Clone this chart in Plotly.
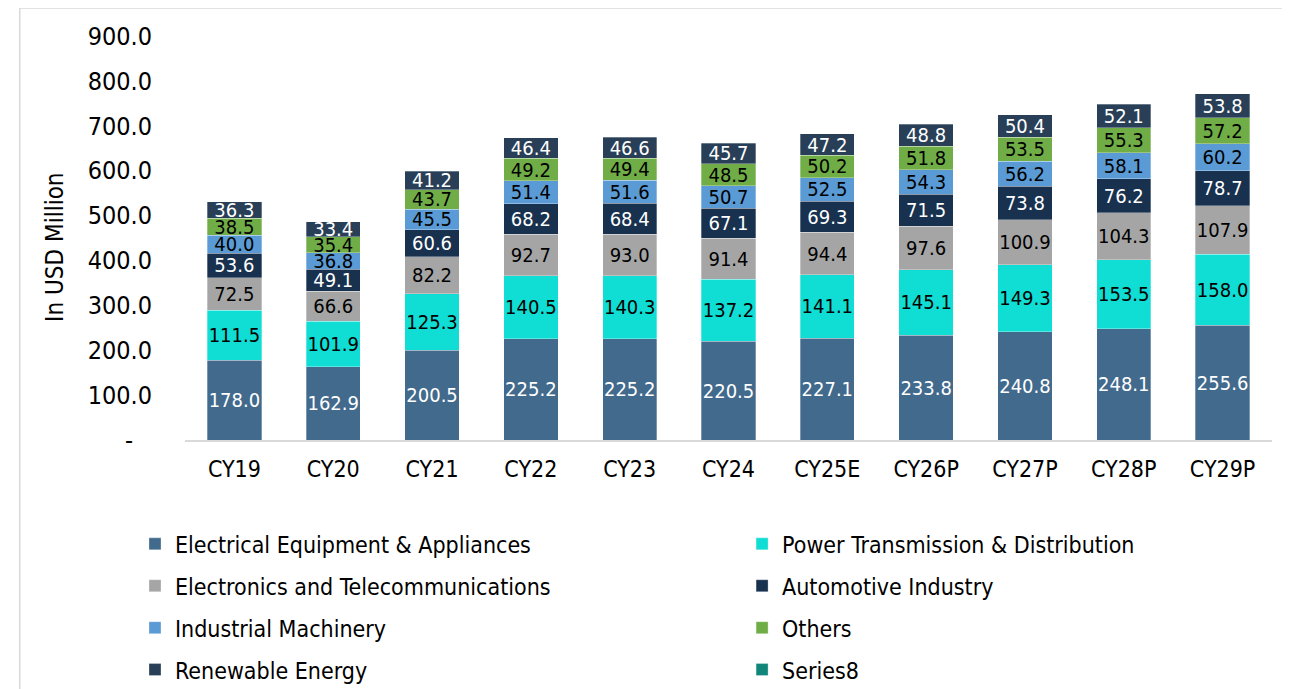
import plotly.graph_objects as go

years = ["CY19", "CY20", "CY21", "CY22", "CY23", "CY24", "CY25E", "CY26P", "CY27P", "CY28P", "CY29P"]

electrical = [178.0, 162.9, 200.5, 225.2, 225.2, 220.5, 227.1, 233.8, 240.8, 248.1, 255.6]
power_td = [111.5, 101.9, 125.3, 140.5, 140.3, 137.2, 141.1, 145.1, 149.3, 153.5, 158.0]
electronics = [72.5, 66.6, 82.2, 92.7, 93.0, 91.4, 94.4, 97.6, 100.9, 104.3, 107.9]
automotive = [53.6, 49.1, 60.6, 68.2, 68.4, 67.1, 69.3, 71.5, 73.8, 76.2, 78.7]
industrial = [40.0, 36.8, 45.5, 51.4, 51.6, 50.7, 52.5, 54.3, 56.2, 58.1, 60.2]
others = [38.5, 35.4, 43.7, 49.2, 49.4, 48.5, 50.2, 51.8, 53.5, 55.3, 57.2]
renewable = [36.3, 33.4, 41.2, 46.4, 46.6, 45.7, 47.2, 48.8, 50.4, 52.1, 53.8]
series8 = [None] * len(years)

y_tickvals = [0, 100, 200, 300, 400, 500, 600, 700, 800, 900]
y_ticktext = ["-\u00a0\u00a0\u2009", "100.0", "200.0", "300.0", "400.0", "500.0",
              "600.0", "700.0", "800.0", "900.0"]

FONT = "DejaVu Sans Condensed, DejaVu Sans, sans-serif"

# name, values, fill colour, label colour, legend
series = [
    ("Electrical Equipment & Appliances", electrical, "#426A8D", "white", "legend"),
    ("Power Transmission & Distribution", power_td, "#10DDD3", "black", "legend2"),
    ("Electronics and Telecommunications", electronics, "#A5A5A5", "black", "legend"),
    ("Automotive Industry", automotive, "#17314F", "white", "legend2"),
    ("Industrial Machinery", industrial, "#5B9BD5", "black", "legend"),
    ("Others", others, "#70AD47", "black", "legend2"),
    ("Renewable Energy", renewable, "#283F57", "white", "legend"),
    ("Series8", series8, "#12857A", "white", "legend2"),
]

fig = go.Figure()
for name, vals, col, tcol, leg in series:
    fig.add_trace(go.Bar(
        x=years, y=vals, name=name, legendgroup=name, legend=leg,
        marker=dict(color=col, line=dict(color="rgba(255,255,255,0.5)", width=0.6)),
        texttemplate="%{y:.1f}", textposition="inside", insidetextanchor="middle",
        constraintext="none", textangle=0,
        textfont=dict(family=FONT, size=20, color=tcol),
    ))

# outer chart border (Excel chart area)
fig.add_shape(type="rect", xref="paper", yref="paper",
              x0=-0.152, x1=1.0101, y0=-0.66, y1=1.069,
              line=dict(color="#D9D9D9", width=1.5), fillcolor="rgba(0,0,0,0)", layer="below")

# y axis title, placed as in the source (a bit below the plot middle)
fig.add_annotation(text="In USD Million", xref="paper", yref="paper", x=-0.1196, y=0.478,
                   textangle=-90, showarrow=False, xanchor="center", yanchor="middle",
                   font=dict(family=FONT, size=24, color="black"))

legend_common = dict(orientation="v", yref="container", yanchor="top", y=0.2534, xanchor="left",
                     font=dict(family=FONT, size=23, color="black"),
                     bgcolor="rgba(0,0,0,0)", tracegroupgap=9, itemclick=False,
                     traceorder="grouped")

fig.update_layout(
    width=1290, height=689,
    margin=dict(l=177, r=26, t=28, b=257, autoexpand=False),
    paper_bgcolor="white", plot_bgcolor="white",
    barmode="stack", bargap=0.45,
    font=dict(family=FONT, color="black"),
    legend=dict(x=-0.046, **legend_common),
    legend2=dict(x=0.5125, **legend_common),
    xaxis=dict(showgrid=False, showline=True, linecolor="#D9D9D9", linewidth=1.5,
               ticks="", tickfont=dict(family=FONT, size=23, color="black"),
               ticklabelstandoff=8, automargin=False),
    yaxis=dict(range=[0, 900], tickvals=y_tickvals, ticktext=y_ticktext,
               showgrid=False, zeroline=False, showline=False, ticks="",
               tickfont=dict(family=FONT, size=25, color="black"),
               ticklabelstandoff=32, automargin=False),
)

fig.write_html("out.html")
